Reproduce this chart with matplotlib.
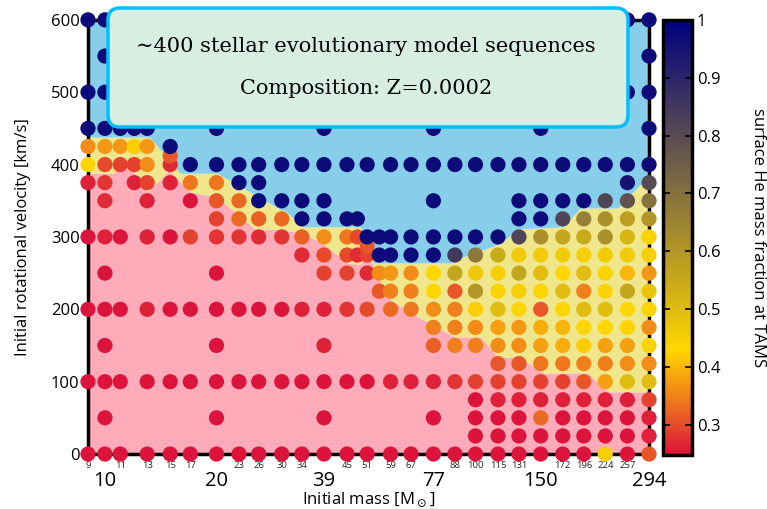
import numpy as np
import matplotlib
matplotlib.use("Agg")
import matplotlib.pyplot as plt
from matplotlib.colors import LinearSegmentedColormap, Normalize
from matplotlib.patches import FancyBboxPatch

plt.rcParams['font.family'] = ['Open Sans', 'DejaVu Sans']

# model grid: one entry per initial-mass column
grid_masses = [9, 10, 11, 12, 13, 15, 17, 20, 23, 26, 30, 34, 39, 45, 48, 51, 55, 59, 67, 77, 88,
               100, 115, 131, 150, 172, 196, 224, 257, 294]

v25 = list(range(0, 351, 25))
grid_vrot = [
    [0, 100, 200, 300, 375, 400, 425, 450, 500, 600],
    [0, 50, 100, 150, 200, 250, 300, 350, 375, 400, 425, 450, 500, 550, 600],
    [0, 100, 200, 300, 400, 425, 450],
    [375, 400, 425, 450],
    [0, 100, 200, 300, 350, 375, 400, 425, 450],
    [0, 100, 200, 300, 375, 400, 412, 425],
    [0, 100, 200, 300, 350, 375, 400],
    [0, 50, 100, 150, 200, 250, 300, 325, 350, 375, 400, 450],
    [0, 100, 200, 300, 325, 350, 375, 400],
    [0, 100, 200, 300, 325, 350, 375, 400],
    [0, 100, 200, 300, 325, 350, 400],
    [0, 100, 200, 275, 300, 325, 350, 400],
    [0, 50, 100, 150, 200, 250, 275, 300, 325, 350, 400, 450],
    [0, 100, 200, 250, 275, 300, 325, 400],
    [275, 300, 325],
    [0, 100, 200, 250, 275, 287, 300, 400],
    [225, 250, 275, 300],
    [0, 100, 200, 225, 250, 275, 300, 400],
    [0, 100, 200, 225, 250, 275, 300, 400],
    [0, 50, 100, 150, 175, 200, 225, 250, 275, 300, 350, 400, 450],
    [0, 100, 150, 175, 200, 225, 250, 275, 300, 400],
    [0, 25, 50, 75, 100, 150, 175, 200, 225, 250, 275, 300, 400],
    [0, 25, 50, 75, 100, 125, 150, 175, 200, 225, 250, 275, 300, 400],
    v25 + [400],
    v25 + [400, 450],
    v25 + [400],
    v25 + [400],
    v25 + [400],
    v25 + [375, 400, 500, 600],
    v25 + [375, 400, 450, 500, 550, 600],
]

grid_he = [
    [0.25, 0.25, 0.25, 0.25, 0.26, 0.43, 0.36, 0.97, 0.97, 0.97],
    [0.25, 0.25, 0.25, 0.25, 0.25, 0.25, 0.26, 0.27, 0.28, 0.30, 0.37, 0.97, 0.97, 0.97, 0.97],
    [0.25, 0.25, 0.25, 0.25, 0.29, 0.37, 0.97],
    [0.26, 0.29, 0.42, 0.97],
    [0.25, 0.25, 0.26, 0.26, 0.26, 0.29, 0.36, 0.37, 0.97],
    [0.25, 0.25, 0.25, 0.25, 0.26, 0.27, 0.31, 0.97],
    [0.25, 0.25, 0.25, 0.29, 0.25, 0.34, 0.97],
    [0.25, 0.25, 0.25, 0.25, 0.25, 0.25, 0.28, 0.29, 0.31, 0.34, 0.97, 0.97],
    [0.25, 0.25, 0.25, 0.28, 0.33, 0.33, 0.97, 0.97],
    [0.25, 0.25, 0.25, 0.27, 0.32, 0.97, 0.97, 0.97],
    [0.25, 0.25, 0.25, 0.28, 0.33, 0.97, 0.97],
    [0.25, 0.25, 0.26, 0.27, 0.32, 0.97, 0.97, 0.97],
    [0.25, 0.25, 0.25, 0.26, 0.26, 0.29, 0.30, 0.36, 0.97, 0.97, 0.97, 0.97],
    [0.25, 0.25, 0.28, 0.29, 0.30, 0.34, 0.97, 0.97],
    [0.27, 0.30, 0.97],
    [0.25, 0.25, 0.30, 0.27, 0.29, 0.31, 0.97, 0.97],
    [0.31, 0.36, 0.97, 0.97],
    [0.25, 0.26, 0.33, 0.35, 0.37, 0.97, 0.97, 0.97],
    [0.25, 0.26, 0.34, 0.35, 0.36, 0.97, 0.97, 0.97],
    [0.25, 0.25, 0.26, 0.32, 0.35, 0.36, 0.43, 0.43, 0.97, 0.97, 0.97, 0.97, 0.97],
    [0.25, 0.28, 0.35, 0.35, 0.35, 0.31, 0.56, 0.85, 0.97, 0.97],
    [0.25, 0.25, 0.25, 0.25, 0.29, 0.35, 0.36, 0.42, 0.60, 0.47, 0.68, 0.97, 0.97],
    [0.25, 0.25, 0.25, 0.26, 0.29, 0.31, 0.36, 0.38, 0.50, 0.44, 0.45, 0.55, 0.97, 0.97],
    [0.25, 0.25, 0.25, 0.26, 0.29, 0.31, 0.36, 0.37, 0.43, 0.45, 0.56, 0.46, 0.82, 0.97, 0.97, 0.97],
    [0.25, 0.25, 0.33, 0.26, 0.29, 0.34, 0.38, 0.39, 0.31, 0.43, 0.50, 0.46, 0.62, 0.97, 0.97, 0.97, 0.97],
    [0.25, 0.25, 0.25, 0.26, 0.29, 0.34, 0.39, 0.40, 0.43, 0.50, 0.43, 0.46, 0.56, 0.82, 0.97, 0.97],
    [0.25, 0.25, 0.25, 0.26, 0.31, 0.35, 0.42, 0.43, 0.50, 0.35, 0.50, 0.45, 0.55, 0.66, 0.97, 0.97],
    [0.45, 0.25, 0.25, 0.26, 0.38, 0.35, 0.38, 0.43, 0.50, 0.44, 0.44, 0.46, 0.62, 0.62, 0.82, 0.97],
    [0.25, 0.25, 0.25, 0.26, 0.50, 0.36, 0.38, 0.43, 0.43, 0.56, 0.40, 0.46, 0.52, 0.58, 0.78, 0.95, 0.97, 0.97, 0.97],
    [0.31, 0.26, 0.26, 0.29, 0.50, 0.36, 0.44, 0.36, 0.44, 0.48, 0.37, 0.45, 0.44, 0.60, 0.70, 0.80, 0.97, 0.97, 0.97, 0.97, 0.97],
]

# region boundaries (velocity vs mass)
pink_mass = [9, 10.6, 11.2, 13.0, 14.9, 17, 20.1, 25.4, 30, 34.3, 39, 45, 48.9, 51, 53.7, 59, 67, 77, 88, 103,
             115, 131.5, 153, 201, 228, 294]
pink_top = [388, 388, 411, 362, 392, 362, 355, 311, 310, 305, 290, 264, 262, 285, 250, 213, 195, 178, 162, 162,
            134, 134, 112, 112, 86, 86]
khaki_mass = [9, 13.2, 16.0, 20.1, 30, 30.5, 34.3, 48.9, 53, 85.6, 91, 117, 130, 172, 192, 242, 294]
khaki_top = [438, 438, 388, 388, 337, 337, 314, 314, 264, 264, 271, 291, 311, 314, 340, 340, 385]

major_ticks = [10, 20, 39, 77, 150, 294]
minor_ticks = [9, 11, 13, 15, 17, 23, 26, 30, 34, 45, 51, 59, 67, 88, 100, 115, 131, 172, 196, 224, 257]

cmap = LinearSegmentedColormap.from_list('he', [(0, 'crimson'), (0.24, 'gold'), (1, 'navy')])
norm = Normalize(vmin=0.248, vmax=1.0)

fig = plt.figure(figsize=(7.67, 5.09), dpi=100)
ax = fig.add_axes([0.1147, 0.108, 0.7315, 0.853])

mm = np.logspace(np.log10(9), np.log10(294), 600)
p = np.interp(np.log10(mm), np.log10(pink_mass), pink_top)
k = np.interp(np.log10(mm), np.log10(khaki_mass), khaki_top)
ax.fill_between(mm, 0, p, color='#ffabb9', lw=0, zorder=1)
ax.fill_between(mm, p, k, color='khaki', lw=0, zorder=1)
ax.fill_between(mm, k, 600, color='skyblue', lw=0, zorder=1)

for m, vs, hs in zip(grid_masses, grid_vrot, grid_he):
    ax.scatter([m] * len(vs), vs, c=hs, cmap=cmap, norm=norm, s=120, lw=0, zorder=3, clip_on=False)

ax.set_xscale('log')
ax.set_xlim(9, 294)
ax.set_ylim(0, 600)
ax.set_xticks(major_ticks, [str(t) for t in major_ticks])
ax.set_xticks(minor_ticks, [str(t) for t in minor_ticks], minor=True)
ax.tick_params(axis='x', which='major', length=0, pad=12, labelsize=14.5)
ax.tick_params(axis='x', which='minor', length=0, pad=5, labelsize=6.8, labelcolor='#222222')
ax.set_yticks(range(0, 601, 100))
ax.tick_params(axis='y', length=0, pad=6, labelsize=12)
for s in ax.spines.values():
    s.set_linewidth(2.5)
ax.set_xlabel(r'Initial mass [M$_\odot$]', fontsize=12, labelpad=0)
ax.set_ylabel('Initial rotational velocity [km/s]', fontsize=12, labelpad=14)

cax = fig.add_axes([0.8644, 0.106, 0.0378, 0.855])
sm = plt.cm.ScalarMappable(norm=norm, cmap=cmap)
cb = fig.colorbar(sm, cax=cax, ticks=[0.3, 0.4, 0.5, 0.6, 0.7, 0.8, 0.9, 1.0])
cb.ax.set_yticklabels(['0.3', '0.4', '0.5', '0.6', '0.7', '0.8', '0.9', '1'])
cb.ax.tick_params(direction='in', length=5, width=1.2, left=True, right=True, labelsize=12)
cb.outline.set_linewidth(2.5)
cb.set_label('surface He mass fraction at TAMS', rotation=270, fontsize=12, labelpad=33)

# annotation box
ov = fig.add_axes([0, 0, 1, 1], zorder=10)
ov.set_xlim(0, 767)
ov.set_ylim(509, 0)
ov.axis('off')
ov.add_patch(FancyBboxPatch((108, 8), 520, 119, boxstyle='round,pad=0,rounding_size=12',
                            fc='#d8eee2', ec='#00bfff', lw=2.5))
serif = ['DejaVu Serif']
ov.text(366, 46, '\u223c400 stellar evolutionary model sequences', ha='center', va='center',
        fontsize=15, family=serif)
ov.text(366, 88, 'Composition: Z=0.0002', ha='center', va='center', fontsize=15, family=serif)

fig.savefig('out.png', dpi=100)
